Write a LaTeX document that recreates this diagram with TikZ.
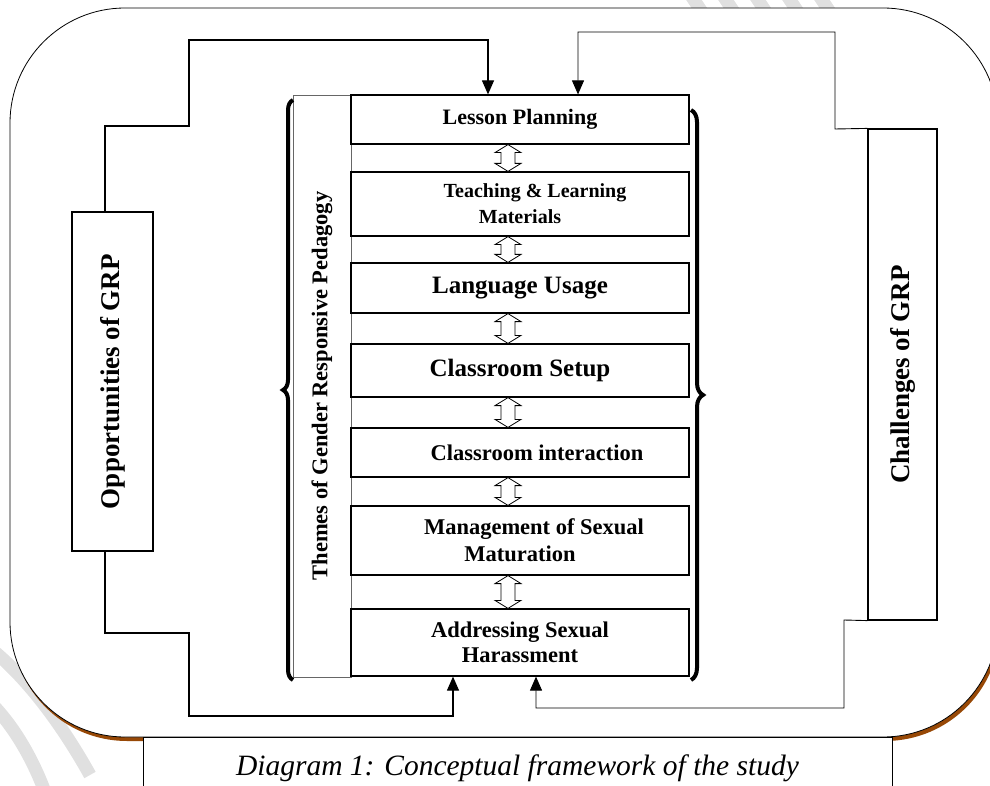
\documentclass[tikz,border=0pt]{standalone}
\usepackage{fontspec}
\setmainfont{Liberation Serif}
\usetikzlibrary{arrows.meta}
\usetikzlibrary{calc}
\usetikzlibrary{decorations.pathreplacing}
\usetikzlibrary{positioning}
\definecolor{shadowbrown}{RGB}{151,72,6}
\definecolor{wmgray}{RGB}{224,224,224}
\tikzset{stagebox/.style = {draw, line width=1.2pt, fill=white, minimum width=338pt, align=center, font=\bfseries}}
\tikzset{sidebox/.style = {draw, line width=1.2pt, fill=white, font=\bfseries\fontsize{27}{32}\selectfont}}
\tikzset{link/.style = {line width=1.2pt, -{Triangle[length=14pt, width=12pt]}}}
\tikzset{thinlink/.style = {line width=0.9pt, -{Triangle[length=14pt, width=12pt]}}}
\tikzset{updown/.style = {draw, fill=white, line width=0.8pt}}
\tikzset{wm/.style = {wmgray, line width=13pt}}
\newcommand{\twoway}[2]{\path[updown] let \p1 = (#1.south), \p2 = (#2.north) in
  ({\x1-12pt},\y1) -- ({\x1+1pt},{\y1-8pt}) -- ({\x1-5pt},{\y1-8pt}) -- ({\x1-5pt},{\y2+8pt})
  -- ({\x1+1pt},{\y2+8pt}) -- ({\x1-12pt},\y2) -- ({\x1-25pt},{\y2+8pt}) -- ({\x1-19pt},{\y2+8pt})
  -- ({\x1-19pt},{\y1-8pt}) -- ({\x1-25pt},{\y1-8pt}) -- cycle;}

\begin{document}
\begin{tikzpicture}[x=1pt, y=-1pt]
            \useasboundingbox (0,0) rectangle (990,786);
            \clip (0,0) rectangle (990,786);
            \draw [wm] (690,-6)--(702,12);
            \draw [wm] (722,-6)--(734,12);
            \draw [wm] (754,-6)--(766,12);
            \draw [wm] (786,-6)--(798,12);
            \draw [wm] (818,-6)--(830,12);
            \draw [wm] (-10,648) .. controls (30,680) and (65,730) .. (90,775);
            \draw [wm] (-10,702) .. controls (10,722) and (30,752) .. (45,792);
            \fill [shadowbrown, rounded corners=115pt] (12,12) rectangle (1000,741);
            \draw [fill=white, line width=0.8pt, rounded corners=115pt] (10,8) rectangle (998,737);
            \node [draw, line width=1pt, fill=white, minimum width=749pt, minimum height=62pt, font=\itshape\fontsize{29.5}{34}\selectfont] (caption) at (517.5,768) {Diagram 1: Conceptual framework of the study};

            \node [draw=black!60, line width=0.7pt, minimum width=58pt, minimum height=582pt, font=\bfseries\fontsize{22.5}{27}\selectfont] (themes) at (322,386) {\rotatebox{90}{Themes of Gender Responsive Pedagogy}};
            \node [stagebox, minimum height=49pt, font=\bfseries\fontsize{22}{26}\selectfont] (lp) at (520,119.5) {Lesson Planning};
            \node [stagebox, minimum height=64pt, font=\bfseries\fontsize{20}{26}\selectfont] (tlm) at (520,204) {\hspace*{30pt}Teaching \& Learning\\Materials};
            \node [stagebox, minimum height=50pt, font=\bfseries\fontsize{25}{29}\selectfont] (lu) at (520,288) {Language Usage};
            \node [stagebox, minimum height=53pt, font=\bfseries\fontsize{25}{29}\selectfont] (cs) at (520,370.5) {Classroom Setup};
            \node [stagebox, minimum height=49pt, font=\bfseries\fontsize{22.5}{27}\selectfont] (ci) at (520,452.5) {\hspace*{34pt}Classroom interaction};
            \node [stagebox, minimum height=69pt, font=\bfseries\fontsize{22.5}{27}\selectfont] (msm) at (520,540.5) {\hspace*{28pt}Management of Sexual\\Maturation};
            \node [stagebox, minimum height=67pt, font=\bfseries\fontsize{22.5}{25}\selectfont] (ash) at (520,642.5) {Addressing Sexual\\Harassment};

            \twoway{lp}{tlm}
            \twoway{tlm}{lu}
            \twoway{lu}{cs}
            \twoway{cs}{ci}
            \twoway{ci}{msm}
            \twoway{msm}{ash}

            \draw [line width=4pt, decorate, decoration={brace, amplitude=10pt}] (293,680)--(293,100);
            \draw [line width=4pt, decorate, decoration={brace, amplitude=12pt}] (691,110)--(691,680);

            \node [sidebox, minimum width=81pt, minimum height=339pt] (opp) at (112.5,381.5) {\rotatebox{90}{Opportunities of GRP}};
            \node [sidebox, minimum width=69pt, minimum height=491pt] (chal) at (902.5,374.5) {\rotatebox{90}{Challenges of GRP}};

            \draw [link] ([xshift=-7.5pt]opp.north) |- (189,126) -- (189,40) -| ([xshift=-32pt]lp.north);
            \draw [thinlink] (chal.north west) -- (835,129) -- (835,32) -| ([xshift=58pt]lp.north);
            \draw [link] ([xshift=-7.5pt]opp.south) |- (189,633) -- (189,716) -| ([xshift=-67pt]ash.south);
            \draw [thinlink] (chal.south west) -- (844,620) -- (844,708) -| ([xshift=16pt]ash.south);
        \end{tikzpicture}
\end{document}
